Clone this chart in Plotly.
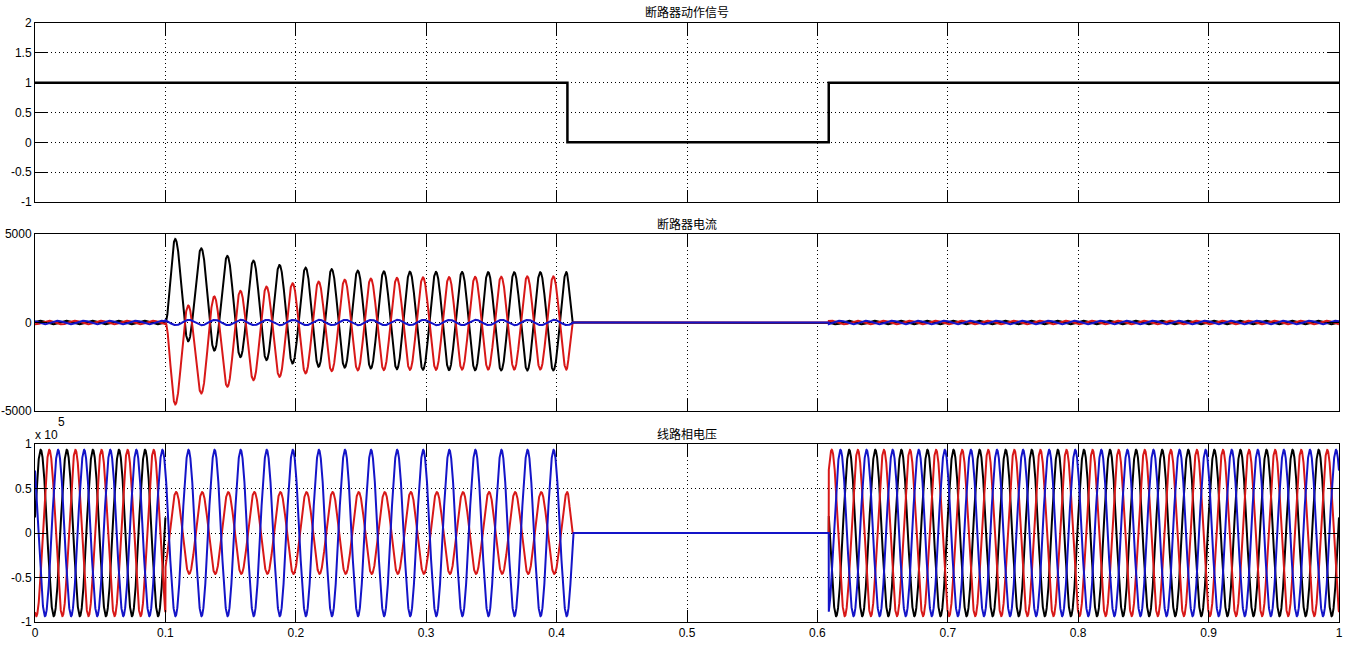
import numpy as np
import plotly.graph_objects as go
from plotly.subplots import make_subplots

# ---------------- data ----------------
F_HZ = 50
T_END = 1.0

# breaker action signal (step)
brk_t = [0.0, 0.4083, 0.4083, 0.6087, 0.6087, 1.0]
brk_v = [1, 1, 0, 0, 1, 1]

# event times
t_fault = 0.1
t_clear = 0.4125
t_reclose = 0.6087

# breaker current during fault: extrema (A)
ia_first_peak_t = 0.1075
ia_peaks = [4720, 4190, 3760, 3500, 3250, 3100, 3010, 2930, 2890, 2870, 2860, 2850,
            2850, 2840, 2840, 2840]
ia_troughs = [-1060, -1590, -1960, -2130, -2320, -2500, -2550, -2600, -2640, -2670,
              -2690, -2700, -2710, -2710, -2710]
ic_troughs = [-4630, -4010, -3630, -3260, -3070, -2880, -2750, -2710, -2690, -2680,
              -2670, -2660, -2660, -2660, -2660, -2660]
ic_peaks = [960, 1470, 1790, 2030, 2220, 2310, 2420, 2480, 2520, 2550, 2570, 2580,
            2590, 2600, 2600]

# small currents (A) and their peak times within a 20 ms period (s)
i_load_amp = 100
ib_fault_amp = 150
ib_fault_peak = 0.0180
i_peak_phase = {"black": 0.0040, "red": 0.0107, "blue": 0.0173}

# line phase voltages (V)
v_amp = 93500
v_peak_phase = {"black": 0.0044, "red": 0.0110, "blue": 0.0177}
vc_fault_amp = 46000
vc_fault_peak = 0.0082
vc_last_peak_t = 0.4082

COLORS = {"black": "#000000", "red": "#d81818", "blue": "#1414c8"}

# ---------------- build waveforms ----------------
t = np.linspace(0, T_END, 12001)
w = 2 * np.pi * F_HZ


def wave(amp, tp):
    return amp * np.cos(w * (t - tp))


def extrema_curve(kt, kv):
    y = np.zeros_like(t)
    for (t0, v0), (t1, v1) in zip(zip(kt[:-1], kv[:-1]), zip(kt[1:], kv[1:])):
        m = (t >= t0) & (t <= t1)
        s = (t[m] - t0) / (t1 - t0)
        y[m] = v0 + (v1 - v0) * (1 - np.cos(np.pi * s)) / 2
    return y


def fault_knots(first, second):
    kt, kv = [t_fault], [0.0]
    for k in range(len(first)):
        kt.append(ia_first_peak_t + 0.02 * k)
        kv.append(first[k])
        if k < len(second):
            kt.append(ia_first_peak_t + 0.01 + 0.02 * k)
            kv.append(second[k])
    kt.append(t_clear)
    kv.append(0.0)
    return kt, kv


pre = t < t_fault
flt = (t >= t_fault) & (t < t_clear)
post = t >= t_reclose

currents = {}
for name in ["black", "red", "blue"]:
    y = np.zeros_like(t)
    small = wave(i_load_amp, i_peak_phase[name])
    y[pre] = small[pre]
    y[post] = small[post]
    currents[name] = y
kt, kv = fault_knots(ia_peaks, ia_troughs)
currents["black"][flt] = extrema_curve(kt, kv)[flt]
kt, kv = fault_knots(ic_troughs, ic_peaks)
currents["red"][flt] = extrema_curve(kt, kv)[flt]
currents["blue"][flt] = wave(ib_fault_amp, ib_fault_peak)[flt]

voltages = {}
for name in ["black", "red", "blue"]:
    y = np.zeros_like(t)
    full = wave(v_amp, v_peak_phase[name])
    y[pre] = full[pre]
    y[post] = full[post]
    voltages[name] = y
voltages["black"][flt] = np.nan  # faulted phase: not visible in the reference
voltages["red"][flt] = wave(vc_fault_amp, vc_fault_peak)[flt]
tail = (t >= vc_last_peak_t) & (t < t_clear)
voltages["red"][tail] = extrema_curve([vc_last_peak_t, t_clear], [vc_fault_amp, 0.0])[tail]
voltages["blue"][flt] = wave(v_amp, v_peak_phase["blue"])[flt]

# ---------------- figure ----------------
PLOT_L, PLOT_R = 35, 1339     # plot area in page pixels
PLOT_T, PLOT_B = 23, 622
W, H = 1355, 656
ML, MT = PLOT_L, PLOT_T
MR = W - PLOT_R
MB = H - PLOT_B
PH = PLOT_B - PLOT_T
PW = PLOT_R - PLOT_L


def py(ypix):
    return (PLOT_B - ypix) / PH


def px(xpix):
    return (xpix - PLOT_L) / PW


fig = make_subplots(rows=3, cols=1, shared_xaxes=False, vertical_spacing=0.05)

fig.add_trace(go.Scatter(x=brk_t, y=brk_v, mode="lines",
                         line=dict(color="#000000", width=2.5), showlegend=False),
              row=1, col=1)
for name in ["black", "red", "blue"]:
    fig.add_trace(go.Scatter(x=t, y=currents[name], mode="lines",
                             line=dict(color=COLORS[name], width=2), showlegend=False),
                  row=2, col=1)
for name in ["black", "red", "blue"]:
    fig.add_trace(go.Scatter(x=t, y=voltages[name], mode="lines", connectgaps=False,
                             line=dict(color=COLORS[name], width=2), showlegend=False),
                  row=3, col=1)

domains = [(py(202), py(23)), (py(411), py(234)), (py(622), py(444))]
tick_font = dict(family="Liberation Sans, Arial, sans-serif", size=12, color="#000000")
x_ticks = [round(0.1 * i, 1) for i in range(11)]
x_text = ["0", "0.1", "0.2", "0.3", "0.4", "0.5", "0.6", "0.7", "0.8", "0.9", "1"]

common_axis = dict(showline=True, linecolor="#000000", linewidth=1, mirror="ticks",
                   ticks="inside", ticklen=12, tickcolor="#000000", tickwidth=1,
                   showgrid=True, gridcolor="#000000", gridwidth=1, griddash="1px,3px",
                   zeroline=False, tickfont=tick_font, automargin=False)

for i in range(3):
    xa = "xaxis" if i == 0 else f"xaxis{i + 1}"
    ya = "yaxis" if i == 0 else f"yaxis{i + 1}"
    fig.layout[xa].update(range=[0, 1], tickvals=x_ticks, ticktext=x_text,
                          showticklabels=(i == 2), domain=[0, 1], **common_axis)
    fig.layout[ya].update(domain=list(domains[i]), **common_axis)

fig.layout.yaxis.update(range=[-1, 2], tickvals=[-1, -0.5, 0, 0.5, 1, 1.5, 2],
                        ticktext=["-1", "-0.5", "0", "0.5", "1", "1.5", "2"])
fig.layout.yaxis2.update(range=[-5000, 5000], tickvals=[-5000, 0, 5000],
                         ticktext=["-5000", "0", "5000"])
fig.layout.yaxis3.update(range=[-1e5, 1e5], tickvals=[-1e5, -0.5e5, 0, 0.5e5, 1e5],
                         ticktext=["-1", "-0.5", "0", "0.5", "1"])

title_font = dict(family="Noto Sans CJK SC, sans-serif", size=12, color="#000000")
titles = [("断路器动作信号", 11), ("断路器电流", 223), ("线路相电压", 434)]
for text, ypix in titles:
    fig.add_annotation(text=text, xref="paper", yref="paper", x=px(687), y=py(ypix),
                       xanchor="center", yanchor="middle", showarrow=False, font=title_font)

fig.add_annotation(text="x 10", xref="paper", yref="paper", x=px(33), y=py(435),
                   xanchor="left", yanchor="middle", showarrow=False, font=tick_font)
fig.add_annotation(text="5", xref="paper", yref="paper", x=px(56),
                   y=py(422), xanchor="left", yanchor="middle", showarrow=False,
                   font=tick_font)

fig.update_layout(width=W, height=H, margin=dict(l=ML, r=MR, t=MT, b=MB, pad=0),
                  paper_bgcolor="#ffffff", plot_bgcolor="#ffffff", showlegend=False)

fig.write_html("out.html", config={"displayModeBar": False},
               post_script="document.body.style.margin='0';")
